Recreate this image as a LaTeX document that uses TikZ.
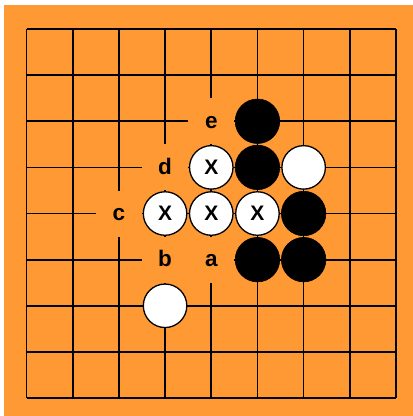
\documentclass[tikz,border=0pt]{standalone}
\usepackage{fontspec}
\setmainfont{Liberation Sans}
\definecolor{boardorange}{HTML}{FF9933}
\begin{document}
\begin{tikzpicture}[x=1pt,y=-1pt,
  gridline/.style={line width=1.7pt,draw=black},
  stoneB/.style={circle,fill=black,draw=black,line width=0.6pt,minimum size=44.5pt,inner sep=0pt},
  stoneW/.style={circle,fill=white,draw=black,line width=1.3pt,minimum size=43.5pt,inner sep=0pt,font=\bfseries\fontsize{21}{21}\selectfont},
  lbl/.style={rectangle,fill=boardorange,minimum size=46pt,inner sep=0pt,text height=14pt,text depth=0pt,font=\bfseries\fontsize{22.5}{22.5}\selectfont}]
\useasboundingbox (0,0) rectangle (413,416);
\fill[white] (0,0) rectangle (413,416);
\fill[boardorange] (4,5) rectangle (413,416);
% grid
\foreach \i in {0,...,8} {
  \draw[gridline] (26.5+46.19*\i,29) -- (26.5+46.19*\i,398);
  \draw[gridline] (26.5,29+46.13*\i) -- (396,29+46.13*\i);
}
% labels
\node[lbl] (le) at (26.5+46.19*4,29+46.13*2) {e};
\node[lbl] (ld) at (26.5+46.19*3,29+46.13*3) {d};
\node[lbl] (lc) at (26.5+46.19*2,29+46.13*4) {c};
\node[lbl] (lb) at (26.5+46.19*3,29+46.13*5) {b};
\node[lbl] (la) at (26.5+46.19*4,29+46.13*5) {a};
% black stones
\node[stoneB] (b1) at (26.5+46.19*5,29+46.13*2) {};
\node[stoneB] (b2) at (26.5+46.19*5,29+46.13*3) {};
\node[stoneB] (b3) at (26.5+46.19*6,29+46.13*4) {};
\node[stoneB] (b4) at (26.5+46.19*5,29+46.13*5) {};
\node[stoneB] (b5) at (26.5+46.19*6,29+46.13*5) {};
% white stones
\node[stoneW] (w1) at (26.5+46.19*6,29+46.13*3) {};
\node[stoneW] (w2) at (26.5+46.19*3,29+46.13*6) {};
% marked white stones
\node[stoneW] (x1) at (26.5+46.19*4,29+46.13*3) {X};
\node[stoneW] (x2) at (26.5+46.19*3,29+46.13*4) {X};
\node[stoneW] (x3) at (26.5+46.19*4,29+46.13*4) {X};
\node[stoneW] (x4) at (26.5+46.19*5,29+46.13*4) {X};
\end{tikzpicture}
\end{document}
